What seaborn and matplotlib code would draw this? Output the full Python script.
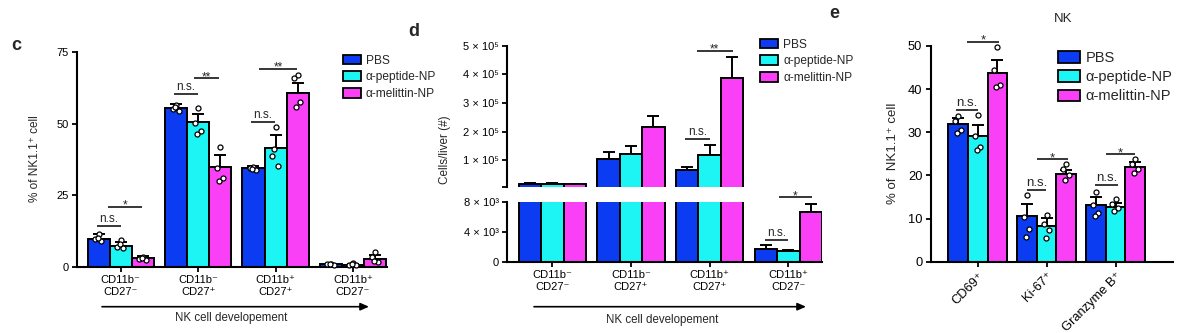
import numpy as np
import pandas as pd
import matplotlib
matplotlib.use("Agg")
import matplotlib.pyplot as plt
import seaborn as sns
from matplotlib.patches import Patch, FancyArrowPatch

sns.set_theme(style="ticks")
plt.rcParams["font.family"] = ["Liberation Sans", "DejaVu Sans"]
plt.rcParams["axes.unicode_minus"] = False

# ---------------- data ----------------
treatments = ["PBS", "α-peptide-NP", "α-melittin-NP"]
palette = ["#0B3CF2", "#1CF5F3", "#F940F6"]

dev_stages = ["CD11b⁻\nCD27⁻", "CD11b⁻\nCD27⁺", "CD11b⁺\nCD27⁺", "CD11b⁺\nCD27⁻"]

# c: % of NK1.1+ cells per developmental stage
c_mean_pbs = [9.7, 55.5, 34.4, 0.8]
c_mean_pep = [7.4, 50.5, 41.4, 0.7]
c_mean_mel = [3.2, 35.0, 60.8, 2.8]
c_sem_pbs = [1.7, 1.2, 0.9, 0.2]
c_sem_pep = [1.4, 3.0, 4.5, 0.3]
c_sem_mel = [0.4, 4.0, 3.5, 1.3]
c_pts_pbs = [[11.3, 9.6, 9.0, 10.2], [56.5, 55.0, 54.5, 55.8], [35.0, 34.4, 33.7, 34.2], [0.9, 0.8, 0.7, 1.0]]
c_pts_pep = [[9.3, 7.0, 6.5, 8.0], [55.3, 50.3, 47.3, 46.4], [48.7, 38.5, 35.2, 41.0], [1.2, 0.6, 0.5, 0.8]]
c_pts_mel = [[3.3, 2.7, 2.5, 3.0], [41.8, 34.4, 31.0, 30.1], [67.0, 65.9, 57.7, 55.9], [5.2, 3.5, 1.5, 2.0]]
c_sig = [(-0.31, 0.00, 14.3, "n.s."), (-0.16, 0.28, 21.0, "*"),
         (0.69, 1.00, 60.2, "n.s."), (0.95, 1.27, 65.8, "**"),
         (1.68, 1.99, 50.5, "n.s."), (1.79, 2.28, 69.2, "**")]

# d: absolute cell numbers per liver
d_mean_pbs = [1.75e4, 1.056e5, 0.65e5, 1.7e3]
d_mean_pep = [1.75e4, 1.21e5, 1.17e5, 1.4e3]
d_mean_mel = [1.70e4, 2.17e5, 3.88e5, 6.6e3]
d_sem_pbs = [5e3, 2.2e4, 1.3e4, 5e2]
d_sem_pep = [5e3, 2.9e4, 3.5e4, 1e2]
d_sem_mel = [5e2, 3.8e4, 7.4e4, 1.1e3]
d_break = 8e3
d_sig_upper = [(1.686, 2.00, 1.733e5, "n.s."), (1.84, 2.29, 4.815e5, "**")]
d_sig_lower = [(2.70, 2.99, 2.89e3, "n.s."), (2.88, 3.30, 8.59e3, "*")]
d_upper_ticks = [8e3, 1e5, 2e5, 3e5, 4e5, 5e5]
d_upper_labels = ["", "1 × 10⁵", "2 × 10⁵", "3 × 10⁵", "4 × 10⁵", "5 × 10⁵"]
d_lower_ticks = [0, 4e3, 8e3]
d_lower_labels = ["0", "4 × 10³", "8 × 10³"]

# e: activation markers on NK cells
e_markers = ["CD69⁺", "Ki-67⁺", "Granzyme B⁺"]
e_mean_pbs = [31.9, 10.6, 13.1]
e_mean_pep = [29.2, 8.2, 12.7]
e_mean_mel = [43.7, 20.3, 22.0]
e_sem_pbs = [1.3, 2.8, 1.8]
e_sem_pep = [2.6, 1.9, 1.0]
e_sem_mel = [3.0, 1.0, 1.1]
e_pts_pbs = [[33.7, 32.5, 30.5, 29.9], [15.5, 10.4, 7.5, 5.8], [16.2, 13.1, 11.4, 10.6]]
e_pts_pep = [[33.9, 29.1, 26.7, 25.9], [10.8, 8.7, 7.3, 5.4], [14.5, 13.4, 12.4, 11.8]]
e_pts_mel = [[49.8, 44.4, 41.0, 40.6], [22.6, 21.6, 20.1, 18.9], [23.7, 22.6, 21.4, 20.5]]
e_sig = [(-0.315, 0.00, 35.2, "n.s."), (-0.15, 0.31, 51.0, "*"),
         (0.712, 0.988, 16.6, "n.s."), (0.858, 1.317, 23.7, "*"),
         (1.705, 2.035, 17.7, "n.s."), (1.865, 2.286, 24.9, "*")]

# ---------------- layout helpers ----------------
W, H = 1187, 333
fig = plt.figure(figsize=(W / 100, H / 100), dpi=100)
GROUP_W = 0.855
OFFS = (np.arange(3) - 1) * GROUP_W / 3
JIT = [0.0, -0.045, 0.035, -0.015]
LW = 1.4


def px_axes(left, top, right, bottom):
    return fig.add_axes([left / W, 1 - bottom / H, (right - left) / W, (bottom - top) / H])


def fx(x):
    return x / W


def fy(y):
    return 1 - y / H


def long_frame(cats, means):
    rows = []
    for t, vals in zip(treatments, means):
        for g, v in zip(cats, vals):
            rows.append({"group": g, "treatment": t, "value": v})
    return pd.DataFrame(rows)


def bars(ax, cats, means, sems, pts=None):
    df = long_frame(cats, means)
    sns.barplot(data=df, x="group", y="value", hue="treatment", order=cats,
                hue_order=treatments, palette=palette, width=GROUP_W,
                edgecolor="black", linewidth=LW, errorbar=None, legend=False,
                saturation=1, ax=ax)
    xs = np.arange(len(cats))
    for i in range(3):
        m = np.asarray(means[i], dtype=float)
        s = np.asarray(sems[i], dtype=float)
        ax.errorbar(xs + OFFS[i], m, yerr=[np.zeros_like(s), s], fmt="none",
                    ecolor="black", elinewidth=LW, capsize=4.5, capthick=LW, zorder=3)
        if pts is not None:
            for g in range(len(cats)):
                vals = pts[i][g]
                ax.scatter(xs[g] + OFFS[i] + np.array(JIT[:len(vals)]), vals, s=13,
                           facecolors="white", edgecolors="black", linewidths=0.9,
                           zorder=4, clip_on=False)
    ax.set_xlabel("")
    ax.set_ylabel("")


def style(ax, size=8):
    sns.despine(ax=ax)
    for sp in ("left", "bottom"):
        ax.spines[sp].set_linewidth(1.5)
        ax.spines[sp].set_color("black")
    ax.tick_params(axis="both", length=3.5, width=1.3, color="black",
                   labelsize=size, labelcolor="black", pad=2.5)
    ax.set_facecolor("none")


def sig(ax, items, size=8.5):
    for x1, x2, y, lab in items:
        ax.plot([x1, x2], [y, y], color="black", lw=1.1, clip_on=False,
                solid_capstyle="butt")
        dy = -1.2 if "*" in lab else 3.0
        ax.annotate(lab, xy=((x1 + x2) / 2, y), xytext=(0, dy),
                    textcoords="offset points", ha="center", va="baseline",
                    fontsize=size, annotation_clip=False)


def legend(ax, x, top, size, hl, hh, spacing, pad):
    handles = [Patch(facecolor=c, edgecolor="black", linewidth=1.3) for c in palette]
    ax.legend(handles, treatments, loc="upper left", bbox_to_anchor=(fx(x), fy(top)),
              bbox_transform=fig.transFigure, frameon=False, fontsize=size,
              handlelength=hl, handleheight=hh, labelspacing=spacing,
              handletextpad=pad, borderpad=0, borderaxespad=0)


def arrow(x0, x1, y):
    fig.add_artist(FancyArrowPatch(
        (fx(x0), fy(y)), (fx(x1), fy(y)), transform=fig.transFigure,
        arrowstyle="-|>,head_length=5,head_width=2.2", lw=1.2, color="black",
        shrinkA=0, shrinkB=0))


# ---------------- panel c ----------------
ax_c = px_axes(77, 52, 387, 266.7)
bars(ax_c, dev_stages, [c_mean_pbs, c_mean_pep, c_mean_mel],
     [c_sem_pbs, c_sem_pep, c_sem_mel], [c_pts_pbs, c_pts_pep, c_pts_mel])
ax_c.set_ylim(0, 75)
ax_c.set_yticks([0, 25, 50, 75])
ax_c.set_xlim(-0.565, 3.44)
ax_c.set_xticks(range(4), dev_stages, linespacing=1.3)
style(ax_c)
sig(ax_c, c_sig)
legend(ax_c, 342.7, 54.5, 8.6, 1.53, 0.89, 0.4, 0.4)
fig.text(fx(35), fy(159), "% of NK1.1⁺ cell", rotation=90, ha="center", va="center", fontsize=8.5)
fig.text(fx(16), fy(45), "c", fontsize=13, fontweight="bold", ha="center", va="center")
arrow(102, 369, 306.7)
fig.text(fx(231), fy(318), "NK cell developement", ha="center", va="center", fontsize=8.3)

# ---------------- panel d (broken y axis) ----------------
d_means = [d_mean_pbs, d_mean_pep, d_mean_mel]
d_sems = [d_sem_pbs, d_sem_pep, d_sem_mel]
# bars that end below the break are only drawn in the lower segment
d_means_up = [[v if v > d_break else 0 for v in m] for m in d_means]
d_sems_up = [[s if v > d_break else 0 for v, s in zip(m, e)] for m, e in zip(d_means, d_sems)]

ax_du = px_axes(507.3, 45.7, 822, 186.7)
ax_dl = px_axes(507.3, 201.7, 822, 261.7)
bars(ax_du, dev_stages, d_means_up, d_sems_up)
bars(ax_dl, dev_stages, d_means, d_sems)
for a in (ax_du, ax_dl):
    a.set_xlim(-0.572, 3.427)
    style(a)
ax_du.set_ylim(d_break, 5e5)
ax_du.set_yticks(d_upper_ticks, d_upper_labels)
ax_du.spines["bottom"].set_visible(False)
ax_du.tick_params(axis="x", bottom=False, labelbottom=False)
ax_dl.set_ylim(0, d_break)
ax_dl.set_yticks(d_lower_ticks, d_lower_labels)
ax_dl.set_xticks(range(4), dev_stages, linespacing=1.3)
sig(ax_du, d_sig_upper)
sig(ax_dl, d_sig_lower)
legend(ax_du, 760, 38.5, 8.6, 1.53, 0.89, 0.4, 0.4)
fig.text(fx(445), fy(150), "Cells/liver (#)", rotation=90, ha="center", va="center", fontsize=8.5)
fig.text(fx(414), fy(31), "d", fontsize=13, fontweight="bold", ha="center", va="center")
arrow(534, 806, 306.7)
fig.text(fx(662), fy(320), "NK cell developement", ha="center", va="center", fontsize=8.3)

# ---------------- panel e ----------------
ax_e = px_axes(930.7, 46, 1172.7, 261.7)
bars(ax_e, e_markers, [e_mean_pbs, e_mean_pep, e_mean_mel],
     [e_sem_pbs, e_sem_pep, e_sem_mel], [e_pts_pbs, e_pts_pep, e_pts_mel])
ax_e.set_ylim(0, 50)
ax_e.set_yticks(range(0, 51, 10))
ax_e.set_xlim(-0.683, 2.83)
style(ax_e, size=9.3)
ax_e.set_xticks(range(3), e_markers, rotation=45, ha="right", rotation_mode="anchor")
sig(ax_e, e_sig, size=9.5)
legend(ax_e, 1058.3, 51, 10.5, 1.5, 0.85, 0.36, 0.35)
fig.text(fx(1063), fy(18.5), "NK", ha="center", va="center", fontsize=9.5)
fig.text(fx(893), fy(153), "% of  NK1.1⁺ cell", rotation=90, ha="center", va="center", fontsize=9.5)
fig.text(fx(834), fy(13), "e", fontsize=13, fontweight="bold", ha="center", va="center")

fig.savefig("out.png", dpi=100)
